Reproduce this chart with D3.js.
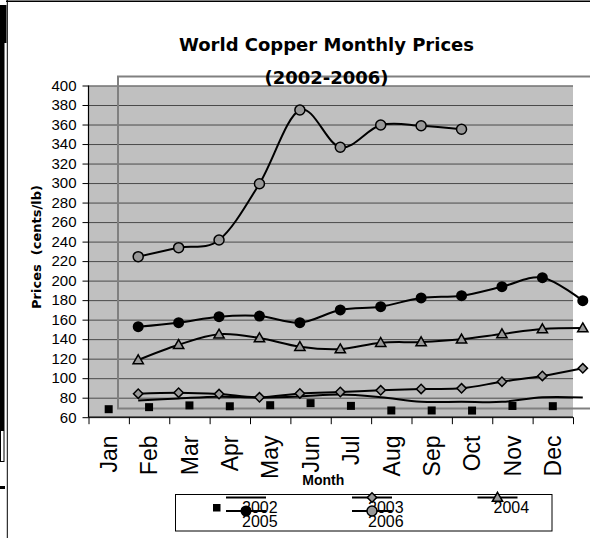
<!DOCTYPE html>
<html><head><meta charset="utf-8">
<script src="https://cdn.jsdelivr.net/npm/d3@7"></script>
<style>body{margin:0;background:#fff}svg{display:block}</style>
</head><body><svg id="c" width="590" height="538"></svg>
<script>
// ---------- data ----------
const months = ["Jan","Feb","Mar","Apr","May","Jun","Jul","Aug","Sep","Oct","Nov","Dec"];
const yTickValues = [60,80,100,120,140,160,180,200,220,240,260,280,300,320,340,360,380,400];
const years = ["2002","2003","2004","2005","2006"];
const v2002 = [68.2, 70.3, 72.1, 71.2, 72.3, 74.4, 71.6, 66.9, 66.9, 66.8, 71.5, 71.3];
const v2003 = [75.2, 76.2, 74.8, 71.5, 75.4, 76.9, 78.6, 80.0, 80.7, 87.4, 93.3, 101.2];
const v2004 = [109.7, 125.3, 136.0, 132.2, 123.3, 120.9, 127.4, 128.1, 130.9, 136.3, 141.4, 142.4];
const v2005 = [143.8, 147.9, 154.0, 154.7, 147.9, 160.9, 164.3, 173.2, 175.5, 184.7, 194.0, 170.4];
const v2006 = [215.5, 224.7, 232.6, 290.2, 365.7, 327.5, 350.3, 349.6, 346.0];
const titleLines = ["World Copper Monthly Prices", "(2002-2006)"];
const yTitle = "Prices  (cents/lb)";
const xTitle = "Month";

// ---------- layout ----------
const svg = d3.select("#c");
const P = {left:88.5, right:573, top:85.5, bottom:417.2};   // primary plot
const S = {left:118, right:603, top:76.5, bottom:408.5};    // overlaid secondary plot
const x1 = d3.scaleBand().domain(months).range([P.left, P.right]);
const y1 = d3.scaleLinear().domain([60,400]).range([P.bottom, P.top]);
const xEdge = d3.scaleLinear().domain([0,12]).range([P.left, P.right]);
const x2 = d3.scaleBand().domain(months).range([S.left, S.right]);
const y2 = d3.scaleLinear().domain([60,400]).range([S.bottom, S.top]);
const GRAYFILL = "#999999";

// left-edge remnants
svg.append("rect").attr("x",0).attr("y",5).attr("width",6.5).attr("height",38).attr("fill","#000");
svg.append("rect").attr("x",0).attr("y",43).attr("width",4.5).attr("height",387).attr("fill","#000");
svg.append("rect").attr("x",0.5).attr("y",430.5).attr("width",3.5).attr("height",31).attr("fill","none").attr("stroke","#000");
svg.append("rect").attr("x",0).attr("y",486).attr("width",5).attr("height",3).attr("fill","#000");
// chart border
svg.append("line").attr("x1",6).attr("x2",590).attr("y1",1.2).attr("y2",1.2).attr("stroke","#000").attr("stroke-width",1.5);
svg.append("line").attr("x1",7.3).attr("x2",7.3).attr("y1",0).attr("y2",538).attr("stroke","#000").attr("stroke-width",1);

// plot background
svg.append("rect").attr("x",P.left).attr("y",P.top).attr("width",P.right-P.left).attr("height",P.bottom-P.top).attr("fill","#c0c0c0");

// gridlines
const grid = svg.append("g").attr("transform",`translate(${P.left},0)`)
  .call(d3.axisLeft(y1).tickValues(yTickValues).tickSize(-(P.right-P.left)).tickFormat(""));
grid.select(".domain").remove();
grid.selectAll("line").attr("stroke","#4a4a4a").attr("stroke-width",1);

// y axis
const ya = svg.append("g").attr("transform",`translate(${P.left},0)`)
  .call(d3.axisLeft(y1).tickValues(yTickValues).tickSize(6).tickPadding(6));
ya.select(".domain").attr("stroke","#000").attr("stroke-width",1.2).attr("d",`M0,${P.top}V${P.bottom}`);
ya.selectAll("line").attr("stroke","#000");
ya.selectAll("text").attr("font-family","Liberation Sans, Arial, sans-serif").attr("font-size",15).attr("fill","#000");

// x axis (ticks between categories)
const xa = svg.append("g").attr("transform",`translate(0,${P.bottom})`)
  .call(d3.axisBottom(xEdge).tickValues(d3.range(0,13)).tickSize(7).tickFormat(""));
xa.select(".domain").attr("stroke","#000").attr("stroke-width",1.2).attr("d",`M${P.left},0H${P.right}`);
xa.selectAll("line").attr("stroke","#000");
svg.append("g").selectAll("text").data(months).join("text")
  .attr("transform", d => `translate(${x1(d)+x1.bandwidth()/2},435.5) rotate(-90)`)
  .attr("text-anchor","end").attr("dy","0.36em")
  .attr("font-family","Liberation Sans, Arial, sans-serif").attr("font-size",23).attr("fill","#000")
  .text(d => d);

// axis titles
svg.append("text").attr("transform","translate(40.5,247) rotate(-90)").attr("text-anchor","middle")
  .attr("font-family","DejaVu Sans, Verdana, sans-serif").attr("font-weight","bold").attr("font-size",13)
  .attr("xml:space","preserve").style("white-space","pre").text(yTitle);
svg.append("text").attr("x",323.3).attr("y",485).attr("text-anchor","middle")
  .attr("font-family","Liberation Sans, Arial, sans-serif").attr("font-weight","bold").attr("font-size",14)
  .text(xTitle);

// secondary plot frame
svg.append("rect").attr("x",S.left).attr("y",S.top).attr("width",S.right-S.left).attr("height",S.bottom-S.top)
  .attr("fill","none").attr("stroke","#808080").attr("stroke-width",2);

// primary series: 2002 squares
svg.append("g").selectAll("rect").data(v2002).join("rect")
  .attr("x",(d,i)=>x1(months[i])+x1.bandwidth()/2-4).attr("y",d=>y1(d)-4)
  .attr("width",8).attr("height",8).attr("fill","#000");

// secondary series lines
const cx2 = i => x2(months[i]) + x2.bandwidth()/2;
const line = d3.line().x((d,i)=>cx2(i)).y(d=>y2(d)).curve(d3.curveCardinal.tension(0));
const seriesData = [v2002, v2003, v2004, v2005, v2006];
svg.append("g").selectAll("path").data(seriesData).join("path")
  .attr("d", d => line(d)).attr("fill","none").attr("stroke","#000").attr("stroke-width",2);

// markers
const diamond = d3.symbol().type(d3.symbolSquare).size(44);
const tri = d3.symbol().type(d3.symbolTriangle).size(46);
function drawMarker(g, kind, x, y){
  if(kind==="diamond") g.append("path").attr("d",diamond()).attr("transform",`translate(${x},${y}) rotate(45)`)
    .attr("fill",GRAYFILL).attr("stroke","#000").attr("stroke-width",1.5);
  else if(kind==="tri") g.append("path").attr("d",tri()).attr("transform",`translate(${x},${y+0.8})`)
    .attr("fill",GRAYFILL).attr("stroke","#000").attr("stroke-width",1.5);
  else if(kind==="black") g.append("circle").attr("cx",x).attr("cy",y).attr("r",5.5).attr("fill","#000");
  else if(kind==="gray") g.append("circle").attr("cx",x).attr("cy",y).attr("r",5).attr("fill",GRAYFILL)
    .attr("stroke","#000").attr("stroke-width",1.5);
}
const mk = svg.append("g");
const kinds = [null,"diamond","tri","black","gray"];
seriesData.forEach((s,k)=>{ if(kinds[k]) s.forEach((v,i)=>drawMarker(mk,kinds[k],cx2(i),y2(v))); });

// legend
const lg = svg.append("g");
lg.append("rect").attr("x",175.5).attr("y",494.5).attr("width",376.5).attr("height",36.5)
  .attr("fill","#fff").attr("stroke","#000").attr("stroke-width",1);
const colX = [246, 372, 497.5];
const rowLineY = [497.5, 511];
const rowTextY = [513, 527];
const legItems = years.map((y,k)=>({name:y, kind:kinds[k], col:[0,1,2,0,1][k], row:[0,0,0,1,1][k]}));
legItems.forEach(it=>{
  lg.append("text").attr("x",colX[it.col]-4).attr("y",rowTextY[it.row])
    .attr("font-family","Liberation Sans, Arial, sans-serif").attr("font-size",16).attr("fill","#000").text(it.name);
});
legItems.forEach(it=>{
  lg.append("line").attr("x1",colX[it.col]-20).attr("x2",colX[it.col]+20)
    .attr("y1",rowLineY[it.row]).attr("y2",rowLineY[it.row]).attr("stroke","#000").attr("stroke-width",2);
});
legItems.forEach(it=>{ if(it.kind) drawMarker(lg, it.kind, colX[it.col], rowLineY[it.row]); });
// primary legend marker (2002 squares)
lg.append("rect").attr("x",213).attr("y",504).attr("width",7.5).attr("height",7.5).attr("fill","#000");

// title
svg.append("g").selectAll("text").data(titleLines).join("text")
  .attr("x",326.5).attr("y",(d,i)=>[50.7,84][i]).attr("text-anchor","middle")
  .attr("font-family","DejaVu Sans, Verdana, sans-serif").attr("font-weight","bold").attr("font-size",18)
  .attr("fill","#000").text(d=>d);
</script></body></html>
